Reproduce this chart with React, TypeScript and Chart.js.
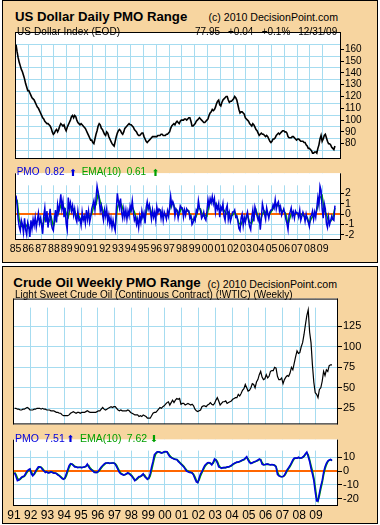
import React, { useEffect, useRef } from 'react';
import { Chart, registerables } from 'chart.js';

Chart.register(...registerables);

const FONT = "'Liberation Sans', Arial, Helvetica, sans-serif";
const TAN = '#F7D5A0';
const GRID = 'rgb(166,220,240)';
const PMO_BLUE = '#0000DD';
const EMA_GREEN = '#00A000';
const ZERO = '#FF6600';

Chart.defaults.font.family = FONT;

// ---------------- US Dollar (monthly samples) ----------------
const usdStart = 1985.04;
const usdPrice = [
  164, 158, 153, 149, 146, 143, 141, 138, 135, 131, 128, 125,
  125, 123, 121, 119, 118, 117, 115, 113, 111, 110, 108, 106,
  104, 102, 101, 99, 98, 97, 97, 96, 95, 93, 90, 88,
  89, 91, 92, 90, 92, 95, 97, 96, 95, 96, 93, 91,
  94, 96, 98, 100, 103, 104, 102, 104, 103, 100, 98, 97,
  96, 97, 96, 95, 94, 93, 91, 89, 87, 85, 83, 83,
  81, 80, 84, 88, 91, 95, 97, 96, 93, 92, 90, 88,
  87, 90, 89, 86, 84, 82, 80, 79, 78, 82, 86, 89,
  91, 92, 91, 89, 88, 90, 93, 94, 95, 96, 97, 96,
  96, 95, 94, 92, 91, 90, 88, 87, 87, 88, 89, 89,
  86, 84, 82, 81, 82, 83, 84, 85, 86, 86, 86, 86,
  86, 87, 87, 87, 88, 88, 87, 87, 87, 88, 88, 89,
  90, 93, 95, 96, 97, 96, 98, 99, 98, 97, 99, 100,
  100, 100, 101, 101, 100, 101, 102, 102, 99, 95, 95, 96,
  97, 99, 100, 101, 102, 101, 100, 99, 98, 98, 99, 100,
  101, 104, 106, 107, 109, 108, 109, 111, 114, 116, 117, 113,
  112, 115, 117, 118, 119, 120, 120, 117, 115, 116, 116, 117,
  118, 120, 119, 117, 113, 109, 106, 107, 107, 106, 105, 102,
  101, 100, 99, 97, 96, 95, 97, 96, 94, 92, 91, 89,
  87, 88, 89, 88, 88, 87, 86, 87, 86, 84, 82, 81,
  82, 84, 84, 85, 87, 88, 89, 88, 89, 90, 91, 91,
  90, 90, 89, 86, 85, 85, 85, 86, 86, 85, 84, 83,
  84, 84, 83, 82, 82, 82, 81, 81, 79, 78, 76, 76,
  75, 74, 72, 72, 73, 73, 72, 76, 79, 84, 87, 82,
  84, 87, 88, 85, 82, 80, 80, 79, 77, 76, 75, 78,
];
const usdPmo = [
  1.8, 0.9, -0.5, -1.2, -1.6, -0.6, -1.0, -1.8, -0.4, -1.5, -2.0, -0.8,
  -1.2, -2.2, -0.6, -1.4, -0.5, -1.1, -0.3, -1.3, -0.6, 0.1, -0.9, -0.4,
  -1.1, -1.9, -0.2, 0.6, -0.8, 0.3, -1.3, -0.4, 0.5, -0.9, -1.4, -1.6,
  -0.5, 0.4, -0.8, 0.9, 0.2, 1.0, 1.9, 0.5, 1.2, -0.3, 0.6, -0.9,
  -1.5, 1.6, 0.6, 1.1, 0.3, 0.8, -0.1, 0.5, -0.4, -0.75, 0.3, -0.6,
  -0.5, -1.1, 0.2, -0.6, -0.2, -0.9, 0.4, -0.5, 0.3, -0.8, -0.3, 0.5,
  0.9, 1.3, 0.4, 1.5, 2.7, 2.1, 1.4, 0.3, 0.8, 0.0, -0.6, 0.4,
  -0.2, 0.5, -0.7, -0.1, -1.0, -0.4, -1.3, -0.6, -1.2, -1.6, 0.4, 2.0,
  1.2, 0.6, 1.5, 0.2, -0.4, 0.5, -0.3, 0.4, -0.5, 0.3, -0.2, 0.8,
  0.4, 1.3, 0.2, -0.6, -0.3, -1.0, -0.5, -1.3, -0.2, -0.8, 0.3, -0.3,
  0.1, -0.9, 0.6, 1.2, 0.5, 0.9, 0.2, -0.5, 0.4, -0.3, 0.2, -0.6,
  0.7, 0.1, 0.5, 0.4, -0.4, 0.3, -0.6, 0.2, -0.1, -0.5, 0.3, -0.2,
  0.6, 1.7, 0.8, 1.2, 0.9, -0.2, 0.5, 0.3, -0.4, 0.2, 0.8, 0.6,
  0.6, -0.3, 0.4, -0.1, 0.5, 0.3, 0.3, -0.4, -0.2, -1.0, -0.8, -0.3,
  -0.6, 0.4, 0.2, 1.3, 0.6, 0.3, -0.4, -0.2, 0.2, -0.4, -0.6, 0.3,
  1.4, 0.8, 1.5, 1.1, 1.7, 1.0, 1.5, 0.2, 0.9, 0.5, 1.0, -0.3,
  0.7, 0.4, 1.0, -0.2, -0.6, 0.5, 0.85, -0.5, 0.1, -0.7, -0.3, 0.2,
  0.2, 0.4, -0.3, -0.2, -0.7, -1.4, -1.6, -0.4, 0.0, -1.1, -0.3, -0.8,
  -0.2, 0.2, -0.6, -1.2, -1.5, -0.3, 0.4, -0.7, 0.7, 0.3, -0.2, -0.6,
  -0.2, -1.5, -0.4, 1.0, 0.5, 0.0, -0.5, 0.6, 0.1, -0.4, 0.2, 0.4,
  0.4, 0.9, 0.6, 1.4, 0.5, 1.0, 1.2, 0.3, 0.7, -0.1, 0.2, 0.5,
  0.1, -0.5, -0.9, -1.5, -0.1, 0.2, 0.6, -0.2, 0.2, -0.4, 0.3, 0.1,
  0.1, -0.3, 0.4, -0.6, -0.2, 0.2, -0.1, -0.7, 0.0, -0.5, -0.8, -1.2,
  -0.3, -0.1, 0.3, -0.5, 0.2, -0.3, 0.6, 1.6, 0.9, 2.7, 2.3, 0.5,
  -0.4, 1.0, 0.5, -0.9, -1.3, -0.3, -1.0, -0.6, -0.2, -0.5, -0.6, 0.82,
];
// EMA(10) sampled every second month
const usdEma = [
  1.4, -0.5, -1.2, -1.2, -1.0, -1.3,
  -1.4, -1.2, -0.9, -0.8, -0.5, -0.5,
  -1.2, -0.3, -0.2, -0.7, -0.3, -1.2,
  -0.5, 0, 0.5, 1.2, 0.6, 0.1,
  -0.3, 0.8, 0.6, 0.3, -0.3, -0.2,
  -0.6, -0.3, -0.4, -0.1, -0.2, 0,
  0.8, 0.9, 2.0, 1.2, 0.5, -0.1,
  0, -0.3, -0.6, -0.9, -1.2, 0.6,
  1.2, 0.9, 0.2, 0, -0.1, 0.2,
  0.7, 0.2, -0.5, -0.8, -0.6, -0.1,
  -0.3, 0.6, 0.8, 0.1, 0, -0.1,
  0.3, 0.4, 0, -0.1, -0.2, 0,
  0.9, 1.1, 0.5, 0.4, 0, 0.6,
  0.3, 0.2, 0.4, 0, -0.5, -0.6,
  -0.2, 0.6, 0.5, -0.2, -0.1, -0.2,
  0.9, 1.2, 1.3, 1.0, 0.7, 0.4,
  0.5, 0.4, 0, 0.2, -0.2, -0.1,
  0.2, -0.2, -0.9, -1.0, -0.5, -0.6,
  -0.1, -0.8, -0.9, -0.1, 0.4, -0.3,
  -0.7, 0, 0.3, 0, -0.1, 0.2,
  0.5, 0.9, 0.8, 0.8, 0.3, 0.3,
  0, -1.0, -0.3, 0.2, -0.1, 0.1,
  0, 0, -0.1, -0.3, -0.3, -0.9,
  -0.4, -0.1, 0, 0.8, 1.6, 1.8,
  0.3, 0, -0.7, -0.7, -0.4, 0.61,
];
const usdYearTicks = [1985, 1986, 1987, 1988, 1989, 1990, 1991, 1992, 1993, 1994, 1995, 1996, 1997, 1998, 1999, 2000, 2001, 2002, 2003, 2004, 2005, 2006, 2007, 2008, 2009];
const usdYearLabels = ['85', '86', '87', '88', '89', '90', '91', '92', '93', '94', '95', '96', '97', '98', '99', '00', '01', '02', '03', '04', '05', '06', '07', '08', '09'];
const usdPriceTicks = [80, 90, 100, 110, 120, 130, 140, 150, 160];
const usdPriceGrid = [74.3, 84.3, 94.3, 104.3, 114.3, 124.3, 134.3, 144.3, 154.3, 164.3];
const usdPmoTicks = [-2, -1, 0, 1, 2];

// ---------------- Crude oil (monthly samples) ----------------
const oilStart = 1991.04;
const oilPrice = [
  25, 25, 24, 24, 23, 23, 24, 24, 25, 26, 25, 23,
  23, 23, 24, 24, 25, 25, 25, 24, 25, 24, 24, 23,
  23, 23, 22, 22, 22, 21, 20, 20, 19, 19, 17, 16,
  16, 16, 16, 17, 19, 20, 21, 20, 19, 20, 20, 19,
  20, 20, 20, 21, 22, 21, 20, 20, 20, 20, 20, 21,
  22, 22, 24, 26, 24, 23, 24, 25, 26, 27, 26, 27,
  27, 25, 23, 22, 23, 22, 22, 22, 22, 23, 22, 20,
  19, 18, 17, 17, 17, 15, 16, 15, 17, 16, 15, 13,
  13, 13, 16, 19, 20, 20, 22, 24, 26, 25, 27, 28,
  30, 32, 33, 29, 32, 35, 32, 35, 37, 36, 37, 30,
  31, 31, 29, 30, 31, 30, 29, 30, 28, 24, 22, 21,
  22, 23, 27, 28, 28, 27, 29, 30, 32, 30, 29, 31,
  35, 38, 34, 29, 31, 33, 33, 34, 31, 32, 33, 34,
  36, 37, 38, 38, 42, 40, 43, 47, 49, 54, 50, 46,
  47, 50, 55, 54, 50, 57, 60, 66, 70, 63, 60, 61,
  66, 62, 64, 70, 71, 71, 75, 74, 64, 60, 60, 62,
  55, 60, 63, 65, 64, 68, 75, 72, 80, 88, 95, 92,
  93, 100, 105, 115, 127, 138, 145, 118, 105, 78, 57, 44,
  42, 38, 48, 50, 58, 70, 65, 72, 70, 77, 78, 78,
];
const oilPmo = [
  -1.3, -4, -7, -6.5, -5.6, -4.5, -4, -3.5, -1.5, 0, 1, 1.5,
  -2, -3.5, -2, 0, 1.5, 3, 3, 2.5, 1, 0, -1, -0.5,
  -1.5, -1, -0.5, -1, -1.5, -1.5, -2, -3, -3.5, -4.5, -5.5, -6,
  -5, -2, 1, 4, 5.4, 5, 4, 3, 3, 2.5, 2.7, 2.7,
  2.5, 2.8, 3, 3.5, 5, 3, 1.5, 0.8, 0, -1, -1, -1,
  0, 1.5, 3, 4, 5, 5.8, 5.8, 6, 5.5, 5.8, 5.8, 5.8,
  5, 3, 1, -1, -2, -2.5, -3, -2.5, -2, -1.3, -2, -3,
  -4, -5.5, -7, -6, -5, -4, -4, -3, -2, -4, -5, -6,
  -5, -2, 3, 7, 12, 13, 14, 14, 13.5, 13, 13.5, 14,
  14.2, 14, 12, 10.5, 9.8, 9.2, 8.8, 8.5, 8.4, 7, 6, 5,
  4, 3, 1.5, 0, -0.5, -1, -1, -1.5, -3, -5.5, -8, -8.5,
  -5, -2, -0.5, 2, 4, 5, 6, 6.2, 5.5, 4.5, 6.5, 8.8,
  8, 6, 3, 2.5, 2, 2.5, 2.5, 2.5, 3, 3, 3.5, 4,
  5, 5.5, 6, 6.5, 6.5, 7, 7.5, 8, 8.4, 9.5, 10.5, 8,
  6.2, 5.5, 6, 6.5, 7, 7.3, 8, 8.8, 8, 5, 4.5, 4.7,
  5, 5, 4.7, 4.5, 4.7, 4.5, 4, 3, -2.4, -3.5, -4, -4.1,
  -4, -3, -1, 1, 2.5, 4, 6, 8, 9.4, 9.4, 9.4, 10,
  9.4, 9.5, 10, 11, 12.5, 13.7, 10.5, 7, 2, -2, -6.7, -15,
  -21.7, -21.7, -16, -11, -7, -1, 3, 5.5, 7.3, 8, 8.4, 7.51,
];
const oilEma = [
  -1, -2.5, -5, -6.5, -6, -5, -4.3, -3.8, -2.5, -0.8, 0.5, 1.2,
  -0.5, -2.8, -2.5, -1, 0.8, 2.2, 3, 2.8, 1.8, 0.5, -0.5, -0.7,
  -1, -1.2, -0.8, -0.8, -1.2, -1.5, -1.8, -2.5, -3.2, -4, -5, -5.7,
  -5.5, -3.5, -0.5, 2.5, 4.7, 5.2, 4.5, 3.5, 3, 2.8, 2.6, 2.7,
  2.6, 2.7, 2.9, 3.3, 4.3, 4, 2.3, 1.2, 0.4, -0.5, -1, -1,
  -0.5, 0.8, 2.2, 3.5, 4.5, 5.4, 5.8, 5.9, 5.7, 5.7, 5.8, 5.8,
  5.4, 4, 2, 0, -1.5, -2.2, -2.8, -2.7, -2.2, -1.7, -1.7, -2.5,
  -3.5, -4.8, -6.3, -6.5, -5.5, -4.5, -4, -3.5, -2.5, -3, -4.5, -5.5,
  -5.5, -3.5, 0.5, 5, 9.5, 12.5, 13.5, 14, 13.8, 13.3, 13.3, 13.7,
  14, 14, 12.8, 11.2, 10, 9.4, 9, 8.6, 8.4, 7.6, 6.5, 5.5,
  4.5, 3.4, 2, 0.7, 0, -0.7, -1, -1.3, -2.3, -4.3, -6.8, -8.2,
  -6.5, -3.5, -1.2, 1, 3, 4.5, 5.5, 6, 5.8, 5, 5.5, 7.5,
  8.3, 7, 4.5, 2.8, 2.2, 2.3, 2.5, 2.5, 2.8, 3, 3.3, 3.8,
  4.5, 5.3, 5.8, 6.3, 6.5, 6.8, 7.3, 7.8, 8.2, 9, 10, 9,
  7, 5.8, 5.8, 6.3, 6.8, 7.2, 7.7, 8.4, 8.3, 6.2, 4.8, 4.6,
  4.8, 5, 4.8, 4.6, 4.6, 4.6, 4.2, 3.4, -0.5, -3, -3.8, -4.1,
  -4, -3.4, -1.8, 0.2, 1.8, 3.3, 5.2, 7.2, 8.8, 9.4, 9.4, 9.8,
  9.6, 9.5, 9.8, 10.6, 12, 13.2, 11.8, 8.2, 4, 0, -4.8, -11.5,
  -19, -21.7, -18, -13, -8.5, -3, 1.5, 4.5, 6.7, 7.8, 8.3, 7.62,
];
const oilYearTicks = [1991, 1992, 1993, 1994, 1995, 1996, 1997, 1998, 1999, 2000, 2001, 2002, 2003, 2004, 2005, 2006, 2007, 2008, 2009];
const oilYearLabels = ['91', '92', '93', '94', '95', '96', '97', '98', '99', '00', '01', '02', '03', '04', '05', '06', '07', '08', '09'];
const oilPriceTicks = [25, 50, 75, 100, 125];
const oilPriceGrid = [25, 50, 75, 100, 125, 150];
const oilPmoTicks = [-20, -10, 0, 10];

// ---------------- helpers ----------------
const monthly = (start: number, arr: number[], step = 1, offset = 0) =>
  arr.map((v, i) => ({ x: start + (i * step + offset) / 12, y: v }));

function framePlugin(strip: number, topBorder: boolean) {
  return {
    id: 'frame',
    beforeDraw(chart: any) {
      const { ctx, chartArea: a } = chart;
      ctx.save();
      ctx.fillStyle = '#fff';
      ctx.fillRect(a.left, a.top, a.right - a.left, a.bottom - a.top);
      ctx.restore();
    },
    beforeDatasetsDraw(chart: any) {
      const { ctx, chartArea: a } = chart;
      ctx.save();
      ctx.fillStyle = '#fff';
      ctx.fillRect(a.left, a.top, a.right - a.left, strip);
      ctx.restore();
    },
    afterDraw(chart: any) {
      const { ctx, chartArea: a } = chart;
      ctx.save();
      ctx.strokeStyle = '#000';
      ctx.lineWidth = 1;
      ctx.beginPath();
      const l = a.left + 0.5, r = a.right - 0.5, b = a.bottom - 0.5, t = a.top + 0.5;
      ctx.moveTo(l, a.top); ctx.lineTo(l, a.bottom);
      ctx.moveTo(r, a.top); ctx.lineTo(r, a.bottom);
      ctx.moveTo(a.left, b); ctx.lineTo(a.right, b);
      if (topBorder) { ctx.moveTo(a.left, t); ctx.lineTo(a.right, t); }
      ctx.stroke();
      ctx.restore();
    },
  };
}

function cfg(o: any) {
  const isZero = (c: any) => o.zero && c.tick && Math.abs(c.tick.value) < 1e-9;
  return {
    type: 'line',
    data: { datasets: o.datasets },
    options: {
      responsive: false,
      animation: false,
      events: [],
      parsing: false,
      normalized: true,
      layout: { padding: { left: o.padLeft, right: 0, top: 0, bottom: 0 } },
      plugins: { legend: { display: false }, tooltip: { enabled: false }, title: { display: false } },
      scales: {
        x: {
          type: 'linear', min: o.xMin, max: o.xMax,
          afterBuildTicks: (s: any) => { s.ticks = o.xTicks.map((v: number) => ({ value: v })); },
          afterFit: (s: any) => { s.height = o.xAxisH; },
          ticks: {
            display: !!o.xLabels, autoSkip: false, maxRotation: 0, minRotation: 0,
            padding: o.xPad || 2, color: '#000', font: { family: FONT, size: o.xFont || 10 },
            callback: (_v: any, i: number) => (o.xLabels ? o.xLabels[i] : ''),
          },
          grid: { color: (c: any) => (c.index === 0 ? 'rgba(0,0,0,0)' : GRID), drawTicks: false, lineWidth: 1 },
          border: { display: false },
        },
        y: {
          type: 'linear', position: 'right', min: o.yMin, max: o.yMax,
          afterBuildTicks: (s: any) => { s.ticks = o.yTicks.map((v: number) => ({ value: v })); },
          afterFit: (s: any) => { s.width = o.axisW; },
          ticks: { color: '#000', padding: 1, font: { family: FONT, size: o.yFont }, callback: (v: any) => String(v) },
          grid: { drawOnChartArea: false, drawTicks: true, tickLength: o.tickLen, color: '#000' },
          border: { display: false },
        },
        yg: {
          type: 'linear', position: 'left', min: o.yMin, max: o.yMax,
          afterBuildTicks: (s: any) => { s.ticks = o.yGrid.map((v: number) => ({ value: v })); },
          afterFit: (s: any) => { s.width = 0; },
          ticks: { display: false },
          grid: {
            drawTicks: false,
            color: (c: any) => (isZero(c) ? ZERO : GRID),
            lineWidth: (c: any) => (isZero(c) ? 2 : 1),
          },
          border: { display: false },
        },
      },
    },
    plugins: [framePlugin(o.strip, o.topBorder)],
  };
}

function Plot({ left, top, width, height, make }: any) {
  const ref = useRef<HTMLCanvasElement>(null);
  useEffect(() => {
    const chart = new Chart(ref.current as HTMLCanvasElement, make() as any);
    return () => chart.destroy();
  }, []);
  return (
    <canvas ref={ref} width={width} height={height}
      style={{ position: 'absolute', left, top, width, height, display: 'block' }} />
  );
}

function T({ x, y, size = 10, bold = false, color = '#000', right = false, ls = 0, family = FONT, children }: any) {
  const style: any = {
    position: 'absolute', top: y - 0.8465 * size, fontFamily: family, fontSize: size,
    lineHeight: `${size}px`, fontWeight: bold ? 700 : 400, color, whiteSpace: 'pre', letterSpacing: ls,
  };
  if (right) style.right = 380 - x; else style.left = x;
  return <div style={style}>{children}</div>;
}

const ARROW = "'DejaVu Sans', sans-serif";

const usdX = { xMin: 1984.961, xMax: 2010.43, padLeft: 15, axisW: 39 };
const oilX = { xMin: 1990.946, xMax: 2010.315, padLeft: 13, axisW: 42 };

const line = (data: any[], color: string, width: number) => ({
  data, borderColor: color, borderWidth: width, pointRadius: 0, tension: 0,
  fill: false, xAxisID: 'x', yAxisID: 'y',
});

export default function App() {
  return (
    <div style={{ position: 'fixed', left: 0, top: 0, width: 380, height: 525, background: '#fff', overflow: 'hidden' }}>
      {/* panels */}
      <div style={{ position: 'absolute', left: 2, top: 0, width: 376, height: 263, background: TAN, border: '1px solid #000', boxSizing: 'border-box' }} />
      <div style={{ position: 'absolute', left: 2, top: 266, width: 376, height: 258, background: TAN, border: '1px solid #000', boxSizing: 'border-box' }} />

      {/* titles */}
      <T x={15} y={21} size={13.2} bold>US Dollar Daily PMO Range</T>
      <T x={338} y={21} size={10.6} right>(c) 2010 DecisionPoint.com</T>
      <T x={13.3} y={287.5} size={13.3} bold>Crude Oil Weekly PMO Range</T>
      <T x={337} y={287.5} size={10.6} right>(c) 2010 DecisionPoint.com</T>

      {/* US dollar charts */}
      <Plot left={0} top={25} width={380} height={141} make={() => cfg({
        ...usdX, xAxisH: 0, xTicks: usdYearTicks, yMin: 67, yMax: 174.75,
        yTicks: usdPriceTicks, yGrid: usdPriceGrid, yFont: 10, tickLen: 3, strip: 12, topBorder: true,
        datasets: [line(monthly(usdStart, usdPrice), '#000', 1.6)],
      })} />
      <Plot left={0} top={166} width={380} height={96} make={() => cfg({
        ...usdX, xAxisH: 22, xTicks: usdYearTicks, xLabels: usdYearLabels, xFont: 10.5, xPad: 3,
        yMin: -2.5, yMax: 3.94, yTicks: usdPmoTicks, yGrid: usdPmoTicks, zero: true,
        yFont: 10.5, tickLen: 3, strip: 12, topBorder: false,
        datasets: [
          line(monthly(usdStart, usdPmo), PMO_BLUE, 1.5),
          line(monthly(usdStart, usdEma, 2, 1), EMA_GREEN, 1.5),
        ],
      })} />

      {/* crude oil charts */}
      <Plot left={0} top={291} width={380} height={141} make={() => cfg({
        ...oilX, xAxisH: 0, xTicks: oilYearTicks, yMin: 5.43, yMax: 158.7,
        yTicks: oilPriceTicks, yGrid: oilPriceGrid, yFont: 11, tickLen: 4, strip: 9, topBorder: true,
        datasets: [line(monthly(oilStart, oilPrice), '#000', 1.2)],
      })} />
      <Plot left={0} top={432} width={380} height={93} make={() => cfg({
        ...oilX, xAxisH: 19, xTicks: oilYearTicks, xLabels: oilYearLabels, xFont: 12, xPad: 2,
        yMin: -25.42, yMax: 22.85, yTicks: oilPmoTicks, yGrid: oilPmoTicks, zero: true,
        yFont: 11, tickLen: 4, strip: 11, topBorder: false,
        datasets: [
          line(monthly(oilStart, oilPmo), PMO_BLUE, 1.6),
          line(monthly(oilStart, oilEma), EMA_GREEN, 1.6),
        ],
      })} />

      {/* in-plot captions */}
      <T x={17} y={35} size={10} ls={0.1}>US Dollar Index (EOD)</T>
      <T x={195} y={35} size={10}>77.95</T>
      <T x={228} y={35} size={10}>+0.04</T>
      <T x={261.7} y={35} size={10}>+0.1%</T>
      <T x={298.3} y={35} size={10}>12/31/09</T>

      <T x={16.7} y={175.5} size={10} color={PMO_BLUE}>PMO</T>
      <T x={45} y={175.5} size={10} color={PMO_BLUE}>0.82</T>
      <T x={69} y={176} size={9.5} color={PMO_BLUE} family={ARROW}>⬆</T>
      <T x={81.7} y={175.5} size={10} color={EMA_GREEN}>EMA(10)</T>
      <T x={126.7} y={175.5} size={10} color={EMA_GREEN}>0.61</T>
      <T x={151.5} y={176} size={9.5} color={EMA_GREEN} family={ARROW}>⬆</T>

      <T x={15} y={298.7} size={10}>Light Sweet Crude Oil (Continuous Contract) (!WTIC) (Weekly)</T>

      <T x={15} y={441.7} size={10.5} color={PMO_BLUE}>PMO</T>
      <T x={44.3} y={441.7} size={10.5} color={PMO_BLUE}>7.51</T>
      <T x={66.5} y={442.2} size={9.5} color={PMO_BLUE} family={ARROW}>⬆</T>
      <T x={80} y={441.7} size={10.5} color={EMA_GREEN}>EMA(10)</T>
      <T x={126.7} y={441.7} size={10.5} color={EMA_GREEN}>7.62</T>
      <T x={150} y={442.2} size={9.5} color={EMA_GREEN} family={ARROW}>⬇</T>
    </div>
  );
}
